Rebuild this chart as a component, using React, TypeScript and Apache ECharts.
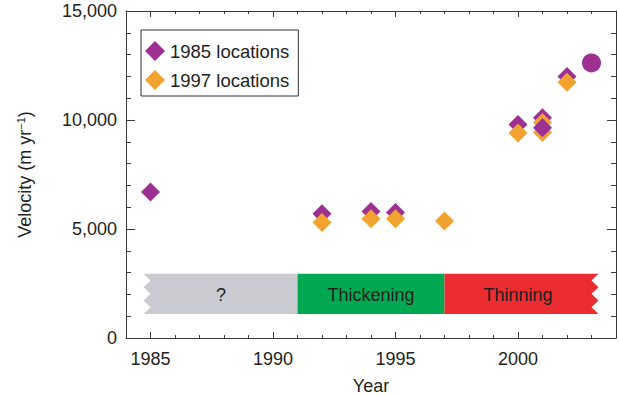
import React, { useEffect, useRef } from 'react';
import * as echarts from 'echarts';

// ---- data ----
const purpleYears = [1985, 1992, 1994, 1995, 2000, 2001, 2002];
const purpleValues = [6700, 5700, 5800, 5760, 9790, 10100, 12000];
const purpleFrontYears = [2001];
const purpleFrontValues = [9650];
const orangeYears = [1992, 1994, 1995, 1997, 2000, 2001, 2001, 2002];
const orangeValues = [5300, 5470, 5470, 5370, 9400, 9880, 9430, 11730];
const circleYears = [2003];
const circleValues = [12620];

const bandLabels = ['?', 'Thickening', 'Thinning'];
const bandStarts = [1985, 1991, 1997];
const bandEnds = [1991, 1997, 2003];
const bandLow = 1100;
const bandHigh = 2950;
const bandJagLeft = [true, false, false];
const bandJagRight = [false, false, true];

const xMajorTicks = [1985, 1990, 1995, 2000];
const seriesNames = ['1985 locations', '1997 locations'];

// ---- styles ----
const FONT = '"Liberation Sans", Arial, Helvetica, sans-serif';
const TEXT = '#231f20';
const AXIS = '#3a3a3a';
const PURPLE = '#9d3192';
const ORANGE = '#f2a22f';
const bandColors = ['#c9cbd1', '#00a851', '#eb2c30'];

const pairs = (xs: number[], ys: number[]) => xs.map((x, i) => [x, ys[i]]);

export default function App() {
  const ref = useRef<HTMLDivElement>(null);
  useEffect(() => {
    const chart = echarts.init(ref.current!, null, { renderer: 'svg' });
    const xBase = { type: 'value', min: 1984, max: 2004, splitLine: { show: false } };
    const yBase = {
      type: 'value', min: 0, max: 15000, interval: 5000,
      splitLine: { show: false },
      axisLine: { show: true, lineStyle: { color: AXIS, width: 1 } },
      axisTick: { show: true, inside: true, length: 9, lineStyle: { color: AXIS } },
      minorTick: { show: true, splitNumber: 5, length: 5, lineStyle: { color: AXIS } },
      minorSplitLine: { show: false },
    };
    const option: any = {
      animation: false,
      textStyle: { fontFamily: FONT, color: TEXT },
      grid: { left: 126, right: 3, top: 11, bottom: 57, containLabel: false, outerBoundsMode: 'none' },
      legend: {
        data: seriesNames,
        orient: 'vertical',
        left: 141,
        top: 30,
        icon: 'diamond',
        itemWidth: 20,
        itemHeight: 20,
        itemGap: 9,
        padding: [11, 9, 6, 4],
        borderColor: '#333',
        borderWidth: 1,
        itemStyle: { opacity: 1 },
        textStyle: { fontSize: 18.5, color: TEXT, fontFamily: FONT, lineHeight: 20 },
        selectedMode: false,
      },
      xAxis: [
        {
          ...xBase, position: 'bottom', interval: 1,
          axisLine: { show: true, onZero: false, lineStyle: { color: AXIS, width: 1 } },
          axisTick: { show: true, inside: true, length: 3, lineStyle: { color: AXIS } },
          axisLabel: {
            interval: 0, margin: 12, fontSize: 18, color: TEXT, fontFamily: FONT,
            formatter: (v: number) => (xMajorTicks.includes(v) ? String(v) : ''),
          },
          name: 'Year', nameLocation: 'middle', nameGap: 39,
          nameTextStyle: { fontSize: 18, color: TEXT, fontFamily: FONT, lineHeight: 18 },
        },
        {
          ...xBase, position: 'bottom',
          axisLine: { show: false, onZero: false },
          axisTick: { show: true, inside: true, length: 6, customValues: xMajorTicks, lineStyle: { color: AXIS } },
          axisLabel: { show: false },
        },
        {
          ...xBase, position: 'top', interval: 1,
          axisLine: { show: true, onZero: false, lineStyle: { color: AXIS, width: 1 } },
          axisTick: { show: true, inside: true, length: 3, lineStyle: { color: AXIS } },
          axisLabel: { show: false },
        },
        {
          ...xBase, position: 'top',
          axisLine: { show: false, onZero: false },
          axisTick: { show: true, inside: true, length: 6, customValues: xMajorTicks, lineStyle: { color: AXIS } },
          axisLabel: { show: false },
        },
      ],
      yAxis: [
        {
          ...yBase, position: 'left',
          axisLabel: {
            margin: 9, fontSize: 18, color: TEXT, fontFamily: FONT,
            formatter: (v: number) => v.toLocaleString('en-US'),
          },
          name: '{a|Velocity (m yr}{s|−1}{a|)}',
          nameLocation: 'middle', nameGap: 91, nameRotate: 90,
          nameTextStyle: {
            color: TEXT, fontFamily: FONT, fontSize: 18,
            rich: {
              a: { fontSize: 18, color: TEXT, fontFamily: FONT, lineHeight: 20 },
              s: { fontSize: 11, color: TEXT, fontFamily: FONT, lineHeight: 20, verticalAlign: 'top' },
            },
          },
        },
        { ...yBase, position: 'right', axisLabel: { show: false } },
      ],
      series: [
        {
          type: 'custom',
          name: 'bands',
          xAxisIndex: 0,
          yAxisIndex: 0,
          z: 1,
          encode: { x: [0, 1], y: [2, 3] },
          data: bandStarts.map((s, i) => [s, bandEnds[i], bandLow, bandHigh]),
          renderItem: (params: any, api: any) => {
            const i = params.dataIndex;
            const tl = api.coord([api.value(0), api.value(3)]);
            const br = api.coord([api.value(1), api.value(2)]);
            const x0 = tl[0], y0 = tl[1], x1 = br[0], y1 = br[1];
            const teeth = 3, depth = 7;
            const pts: number[][] = [];
            if (bandJagRight[i]) {
              for (let k = 0; k <= 2 * teeth; k++) {
                pts.push([k % 2 === 0 ? x1 + depth : x1, y0 + ((y1 - y0) * k) / (2 * teeth)]);
              }
            } else {
              pts.push([x1, y0], [x1, y1]);
            }
            if (bandJagLeft[i]) {
              for (let k = 2 * teeth; k >= 0; k--) {
                pts.push([k % 2 === 0 ? x0 - depth : x0, y0 + ((y1 - y0) * k) / (2 * teeth)]);
              }
            } else {
              pts.push([x0, y1], [x0, y0]);
            }
            return {
              type: 'group',
              children: [
                { type: 'polygon', shape: { points: pts }, style: { fill: bandColors[i] } },
                {
                  type: 'text',
                  x: (x0 + x1) / 2 - (bandJagLeft[i] ? 3 : 0),
                  y: (y0 + y1) / 2 + 1,
                  style: {
                    text: bandLabels[i], fill: TEXT, fontSize: 18, fontFamily: FONT,
                    align: 'center', verticalAlign: 'middle',
                  },
                },
              ],
            };
          },
        },
        {
          type: 'scatter', name: seriesNames[0], symbol: 'diamond', symbolSize: 19,
          itemStyle: { color: PURPLE, opacity: 1 }, z: 2, data: pairs(purpleYears, purpleValues),
        },
        {
          type: 'scatter', name: seriesNames[1], symbol: 'diamond', symbolSize: 19,
          itemStyle: { color: ORANGE, opacity: 1 }, z: 2, data: pairs(orangeYears, orangeValues),
        },
        {
          type: 'scatter', name: seriesNames[0], symbol: 'diamond', symbolSize: 19,
          itemStyle: { color: PURPLE, opacity: 1 }, z: 3, data: pairs(purpleFrontYears, purpleFrontValues),
        },
        {
          type: 'scatter', name: 'Velocity 2003', symbol: 'circle', symbolSize: 19,
          itemStyle: { color: PURPLE, opacity: 1 }, z: 3, data: pairs(circleYears, circleValues),
        },
      ],
    };
    chart.setOption(option);
    return () => chart.dispose();
  }, []);
  return (
    <div
      ref={ref}
      style={{ position: 'absolute', left: 0, top: 0, width: 619, height: 395 }}
    />
  );
}
